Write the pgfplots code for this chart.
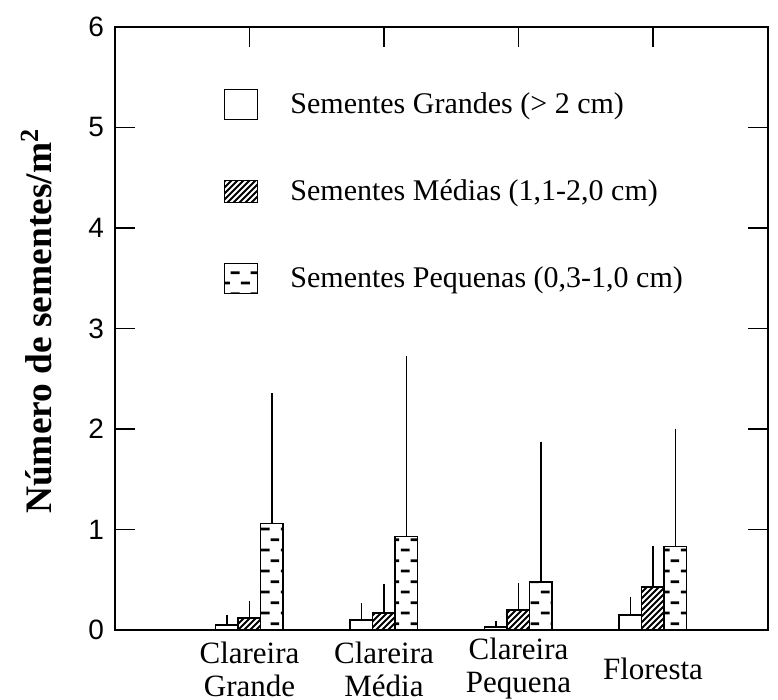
\documentclass[border=0pt]{standalone}
\usepackage{fontspec}
\setmainfont{Liberation Serif}
\newfontfamily\sansf{Liberation Sans}
\usepackage{pgfplots}
\usepackage{pgfplotstable}
\pgfplotsset{compat=1.18}
\usetikzlibrary{patterns}

% staggered short horizontal dashes
\pgfdeclarepatternformonly{hdashes}{\pgfqpoint{0pt}{0pt}}{\pgfqpoint{10pt}{10.3pt}}{\pgfqpoint{10pt}{10.3pt}}{%
  \pgfsetlinewidth{1.4pt}%
  \pgfpathmoveto{\pgfqpoint{0.5pt}{2.6pt}}\pgfpathlineto{\pgfqpoint{5pt}{2.6pt}}%
  \pgfpathmoveto{\pgfqpoint{5.5pt}{7.75pt}}\pgfpathlineto{\pgfqpoint{10pt}{7.75pt}}%
  \pgfusepath{stroke}}

% dense diagonal hatching
\pgfdeclarepatternformonly{diaglines}{\pgfqpoint{-1pt}{-1pt}}{\pgfqpoint{4pt}{4pt}}{\pgfqpoint{3pt}{3pt}}{%
  \pgfsetlinewidth{1pt}%
  \pgfpathmoveto{\pgfqpoint{0pt}{0pt}}\pgfpathlineto{\pgfqpoint{3.1pt}{3.1pt}}%
  \pgfusepath{stroke}}

% mean and upper deviation per site
\pgfplotstableread{
x y e
1 0.05 0.07
2 0.10 0.13
3 0.03 0.03
4 0.15 0.14
}\grandes
\pgfplotstableread{
x y e
1 0.12 0.13
2 0.17 0.25
3 0.20 0.23
4 0.43 0.37
}\medias
\pgfplotstableread{
x y e
1 1.06 1.26
2 0.93 1.76
3 0.48 1.36
4 0.83 1.14
}\pequenas

\pgfplotsset{
  seedbar/.style={
    draw=black, line width=0.75pt,
    error bars/y dir=plus, error bars/y explicit,
    error bars/error bar style={line width=0.6pt, black},
    error bars/error mark options={line width=0.6pt, mark size=1.7pt, black},
  },
}

\begin{document}
\begin{tikzpicture}
\useasboundingbox (-57.5pt,-35pt) rectangle (331.5pt,315pt);
\begin{axis}[
  at={(0pt,0pt)}, anchor=south west, scale only axis,
  width=326.5pt, height=301.5pt,
  xmin=0, xmax=4.855, ymin=0, ymax=6,
  axis line style={line width=0.6pt},
  tick style={line width=0.6pt, black},
  major tick length=10pt,
  tick align=inside,
  ytick={0,1,2,3,4,5,6},
  yticklabels={0,1,2,3,4,5,6},
  yticklabel style={font=\sansf\fontsize{14}{16}\selectfont, xshift=-2pt},
  xtick={1,2,3,4},
  xtick pos=upper, xticklabel pos=lower,
  xtick style={yshift=-10pt},
  xticklabels={Clareira\\Grande, Clareira\\Média, Clareira\\Pequena, Floresta},
  xticklabel style={font=\fontsize{15.5}{16.5}\selectfont, align=center, anchor=center, yshift=-9.5pt},
  ylabel={\bfseries\fontsize{18.7}{22}\selectfont Número de sementes/m\textsuperscript{2}},
  every axis y label/.style={at={(axis description cs:-0.12,0.512)}, rotate=90, anchor=center},
  ybar, bar width=11.25pt,
  legend style={at={(axis description cs:0.157,0.905)}, anchor=north west,
    draw=none, fill=none, font=\fontsize{15}{18}\selectfont,
    row sep=27.5pt, column sep=14pt},
  legend cell align=left,
]
\addplot[seedbar, bar shift=-11.25pt, fill=white,
  legend image code/.code={\draw[black, fill=white, line width=0.75pt] (0pt,-7.5pt) rectangle (16.5pt,7.5pt);}]
  table[x=x, y=y, y error=e] {\grandes};
\addlegendentry{Sementes Grandes (> 2 cm)}
\addplot[seedbar, bar shift=0pt, pattern=diaglines,
  legend image code/.code={\draw[black, pattern=diaglines, line width=0.75pt] (0pt,-5.5pt) rectangle (16.5pt,5.5pt);}]
  table[x=x, y=y, y error=e] {\medias};
\addlegendentry{Sementes Médias (1,1-2,0 cm)}
\addplot[seedbar, bar shift=11.25pt, pattern=hdashes,
  legend image code/.code={\draw[black, pattern=hdashes, line width=0.75pt] (0pt,-7.5pt) rectangle (16.5pt,7.5pt);}]
  table[x=x, y=y, y error=e] {\pequenas};
\addlegendentry{Sementes Pequenas (0,3-1,0 cm)}
\end{axis}
\end{tikzpicture}
\end{document}
